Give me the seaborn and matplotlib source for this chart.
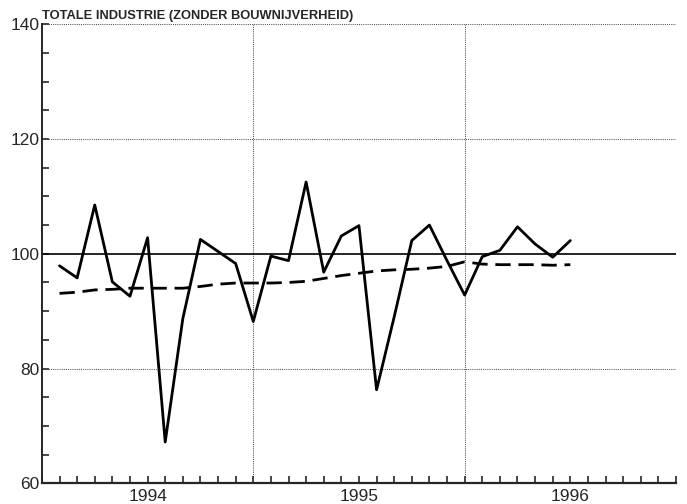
import numpy as np
import pandas as pd
import matplotlib
matplotlib.use("Agg")
import matplotlib.pyplot as plt
import seaborn as sns

# months counted from january 1994 (0 = start of 1994)
months = list(range(1, 31))

# indexcijfers, totale industrie
index_values = [97.9, 95.8, 108.5, 95.1, 92.6, 102.8, 67.2, 88.7, 102.5, 100.4,
                98.3, 88.2, 99.6, 98.8, 112.5, 96.8, 103.1, 104.9, 76.3, 89.0,
                102.3, 105.0, 98.8, 92.8, 99.5, 100.6, 104.7, 101.7, 99.4, 102.3]

# trend (dashed)
trend_values = [93.1, 93.3, 93.7, 93.8, 94.0, 94.0, 94.0, 94.0, 94.3, 94.7,
                94.9, 94.9, 94.9, 95.0, 95.2, 95.7, 96.2, 96.6, 97.0, 97.2,
                97.3, 97.5, 97.8, 98.6, 98.2, 98.1, 98.1, 98.1, 98.0, 98.1]

year_pos = [6, 18, 30]
year_labels = ["1994", "1995", "1996"]
title = "TOTALE INDUSTRIE (ZONDER BOUWNIJVERHEID)"

df = pd.DataFrame({"maand": months, "index": index_values, "trend": trend_values})

sns.set_style("ticks")
plt.rcParams["font.family"] = ["Liberation Sans", "DejaVu Sans"]

fig = plt.figure(figsize=(6.87, 5.04), dpi=100)
ax = fig.add_axes([0.061, 0.041, 0.923, 0.911])

# grid: dotted, with a solid base line at 100
for y in [80, 120, 140]:
    ax.axhline(y, color="#444444", lw=0.7, ls=(0, (1, 1.2)), zorder=1)
for x in [12, 24, 36]:
    ax.axvline(x, color="#444444", lw=0.7, ls=(0, (1, 1.2)), zorder=1)
ax.axhline(100, color="black", lw=1.2, zorder=2)

sns.lineplot(data=df, x="maand", y="index", color="black", lw=2.0, ax=ax, zorder=3)
sns.lineplot(data=df, x="maand", y="trend", color="black", lw=2.0, ax=ax,
             zorder=3, dashes=False, linestyle=(0, (5.5, 2.8)))

ax.set_xlim(0, 36)
ax.set_ylim(60, 140)
ax.set_xlabel("")
ax.set_ylabel("")

ax.set_xticks(year_pos)
ax.set_xticklabels(year_labels)
ax.set_xticks(range(0, 37), minor=True)
ax.tick_params(axis="x", which="both", direction="in", length=5, width=1.2)
ax.tick_params(axis="x", which="major", labelsize=12.5, pad=4)

ax.set_yticks([60, 80, 100, 120, 140])
ax.set_yticks(range(60, 141, 5), minor=True)
ax.tick_params(axis="y", which="major", direction="in", length=5, width=1.2,
               labelsize=12.5, pad=2)
ax.tick_params(axis="y", which="minor", direction="in", length=5, width=1.2)

for side in ["top", "right"]:
    ax.spines[side].set_visible(False)
ax.spines["left"].set_linewidth(1.4)
ax.spines["bottom"].set_linewidth(1.6)

ax.text(0.0, 1.004, title, transform=ax.transAxes, ha="left", va="bottom",
        fontsize=9.3, fontweight="bold")

fig.savefig("out.png", dpi=100)
